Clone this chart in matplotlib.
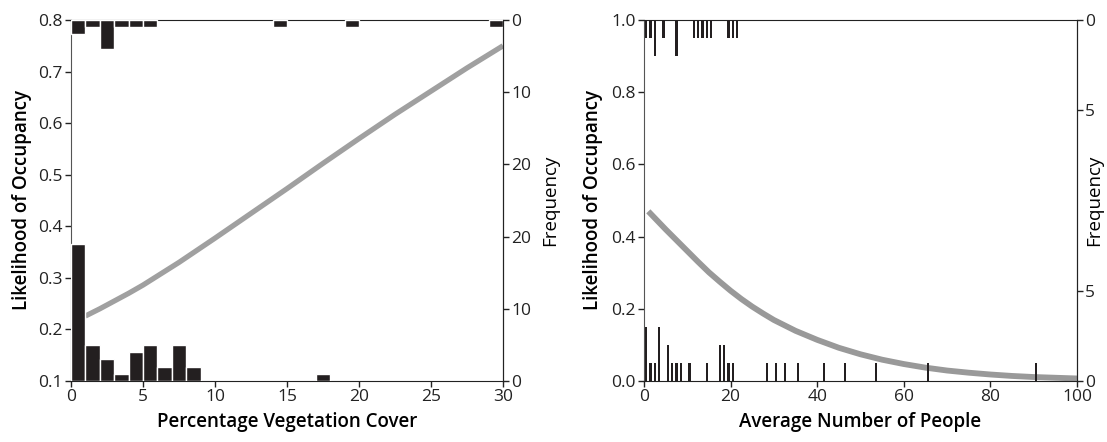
import numpy as np
import matplotlib
matplotlib.use("Agg")
import matplotlib.pyplot as plt

plt.rcParams['font.family'] = ['Open Sans', 'DejaVu Sans']

# ---- panel A: vegetation cover ----
veg_curve_x = [1, 2, 3, 4, 5, 7.5, 10, 12.5, 15, 17.5, 20, 22.5, 25, 27.5, 30]
veg_curve_y = [0.226, 0.240, 0.255, 0.270, 0.286, 0.330, 0.377, 0.425, 0.473, 0.522,
               0.570, 0.617, 0.662, 0.707, 0.750]
veg_bins_top = [0, 1, 2, 3, 4, 5, 14, 19, 29]
veg_freq_top = [2, 1, 4, 1, 1, 1, 1, 1, 1]
veg_bins_bot = [0, 1, 2, 3, 4, 5, 6, 7, 8, 17]
veg_freq_bot = [19, 5, 3, 1, 4, 5, 2, 5, 2, 1]
veg_half = 25
veg_freq_ticks = [0, 10, 20, 30, 40, 50]
veg_freq_labels = ['0', '10', '20', '20', '10', '0']

# ---- panel B: number of people ----
ppl_curve_x = [1, 3, 5, 7.5, 10, 12.5, 15, 17.5, 20, 22.5, 25, 27.5, 30, 35, 40, 45,
               50, 55, 60, 65, 70, 75, 80, 85, 90, 95, 100]
ppl_curve_y = [0.470, 0.445, 0.420, 0.390, 0.360, 0.330, 0.301, 0.275, 0.250, 0.227,
               0.206, 0.187, 0.169, 0.139, 0.114, 0.092, 0.074, 0.059, 0.047, 0.037,
               0.029, 0.023, 0.018, 0.014, 0.011, 0.009, 0.007]
ppl_x_top = [0.5, 1.5, 2.5, 4.5, 7.5, 11.5, 12.5, 13.5, 14.5, 15.5, 19.5, 20.5, 21.5]
ppl_freq_top = [1, 1, 2, 1, 2, 1, 1, 1, 1, 1, 1, 1, 1]
ppl_x_bot = [0.5, 1.5, 2.5, 3.5, 5.5, 6.5, 7.5, 8.5, 10.5, 14.5, 17.5, 18.5, 19.5, 20.5,
             28.5, 30.5, 32.5, 35.5, 41.5, 46.5, 53.5, 65.5, 90.5]
ppl_freq_bot = [3, 1, 1, 3, 2, 1, 1, 1, 1, 1, 2, 2, 1, 1,
                1, 1, 1, 1, 1, 1, 1, 1, 1]
ppl_half = 10
ppl_freq_ticks = [0, 5, 15, 20]
ppl_freq_labels = ['0', '5', '5', '0']

bar_col = '#231f20'
curve_col = '#a0a0a0'
W, H = 1107, 442

fig = plt.figure(figsize=(W / 100, H / 100), dpi=100)
axA = fig.add_axes([71 / W, 1 - 381 / H, 432 / W, 361 / H])
axB = fig.add_axes([644 / W, 1 - 381 / H, 433 / W, 361 / H])


def style(ax, tw):
    for s in ['top', 'bottom', 'right']:
        ax.spines[s].set_color('#222222')
    ax.spines['left'].set_color('#555555')
    for s in ['left', 'top', 'bottom']:
        tw.spines[s].set_visible(False)
    tw.spines['right'].set_color('#222222')
    for a in (ax, tw):
        a.tick_params(direction='out', length=4, width=1, labelsize=12.5,
                      color='#222222', labelcolor='#222222', pad=2)


# panel A
axA.plot(veg_curve_x, veg_curve_y, color=curve_col, lw=3.8, solid_capstyle='butt')
axA.set_xlim(0, 30)
axA.set_ylim(0.1, 0.8)
axA.set_xticks([0, 5, 10, 15, 20, 25, 30])
axA.set_yticks([0.1, 0.2, 0.3, 0.4, 0.5, 0.6, 0.7, 0.8])
axA.set_xlabel('Percentage Vegetation Cover', fontsize=13.5, fontweight='semibold', labelpad=5)
axA.set_ylabel('Likelihood of Occupancy', fontsize=13.5, fontweight='semibold')
axA.yaxis.set_label_coords(-0.09, 0.5)

twA = axA.twinx()
twA.bar(veg_bins_bot, veg_freq_bot, width=1, align='edge', color=bar_col,
        edgecolor='white', linewidth=1)
twA.bar(veg_bins_top, veg_freq_top, width=1, align='edge', color=bar_col,
        bottom=[2 * veg_half - f for f in veg_freq_top], edgecolor='white', linewidth=1)
twA.set_ylim(0, 2 * veg_half)
twA.set_yticks(veg_freq_ticks)
twA.set_yticklabels(veg_freq_labels)
twA.set_ylabel('Frequency', fontsize=13.5)
twA.yaxis.set_label_coords(1.088, 0.5)
style(axA, twA)

# panel B
axB.plot(ppl_curve_x, ppl_curve_y, color='#999999', lw=4.2, solid_capstyle='butt')
axB.set_xlim(0, 100)
axB.set_ylim(0, 1)
axB.set_xticks([0, 20, 40, 60, 80, 100])
axB.set_yticks([0.0, 0.2, 0.4, 0.6, 0.8, 1.0])
axB.set_yticklabels(['0.0', '0.2', '0.4', '0.6', '0.8', '1.0'])
axB.set_xlabel('Average Number of People', fontsize=13.5, fontweight='semibold', labelpad=5)
axB.set_ylabel('Likelihood of Occupancy', fontsize=13.5, fontweight='semibold')
axB.yaxis.set_label_coords(-0.094, 0.5)

twB = axB.twinx()
twB.bar(ppl_x_bot, ppl_freq_bot, width=0.5, color=bar_col, linewidth=0)
twB.bar(ppl_x_top, ppl_freq_top, width=0.5, color=bar_col,
        bottom=[2 * ppl_half - f for f in ppl_freq_top], linewidth=0)
twB.set_ylim(0, 2 * ppl_half)
twB.set_yticks(ppl_freq_ticks)
twB.set_yticklabels(ppl_freq_labels)
twB.set_ylabel('Frequency', fontsize=13.5)
twB.yaxis.set_label_coords(1.018, 0.5)
style(axB, twB)

fig.savefig('out.png', dpi=100)
